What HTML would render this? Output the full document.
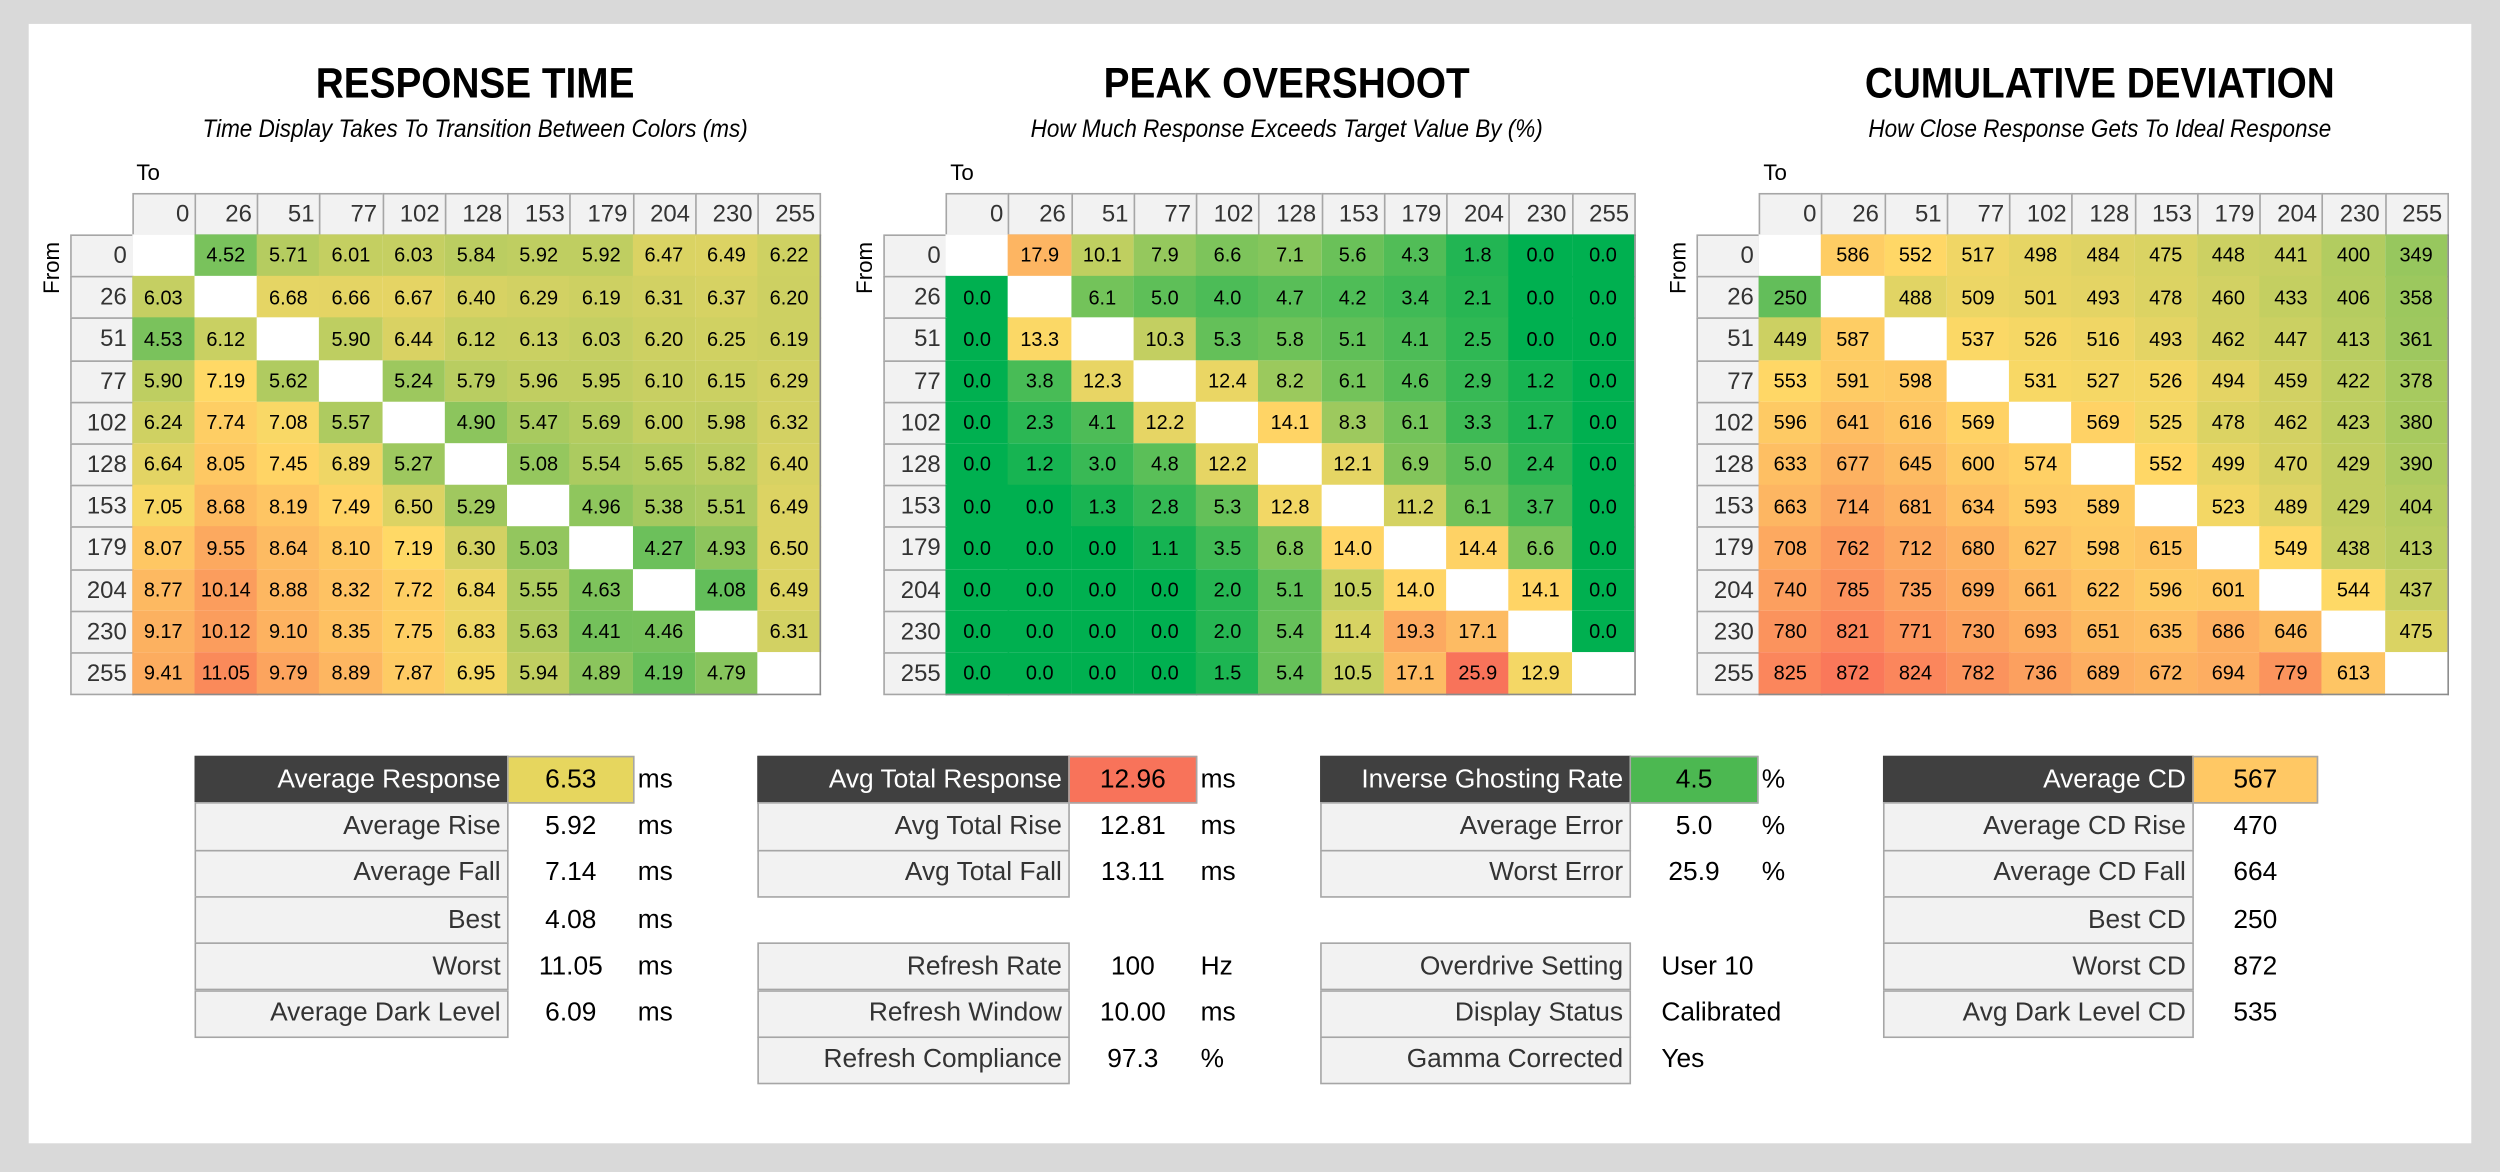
<!DOCTYPE html>
<html><head><meta charset="utf-8">
<style>
html,body{margin:0;padding:0;}
body{width:2500px;height:1172px;background:#d9d9d9;overflow:hidden;position:relative;font-family:"Liberation Sans",sans-serif;}
#stage{position:absolute;left:0;top:0;width:1568px;height:735px;transform:scale(1.59439,1.59456);transform-origin:0 0;}
#panel{position:absolute;left:18px;top:15px;width:1532px;height:702px;background:#fff;}
.abs{position:absolute;box-sizing:border-box;}
.title{position:absolute;width:500px;text-align:center;font-size:27px;font-weight:bold;color:#000;transform:scaleX(0.9);}
.sub{position:absolute;width:500px;text-align:center;font-size:15.5px;font-style:italic;color:#000;transform:scaleX(0.91);}
.hdr{background:#f2f2f2;border:1px solid #a6a6a6;font-size:15px;color:#333;text-align:right;padding-right:3px;display:flex;align-items:center;justify-content:flex-end;}
.cell{font-size:12.5px;color:#000;display:flex;align-items:center;justify-content:center;}
.lab{background:#f2f2f2;border:1px solid #a6a6a6;font-size:16.5px;color:#333;display:flex;align-items:center;justify-content:flex-end;padding-right:4px;}
.lab.dark{background:#404040;color:#fff;border-color:#404040;}
.val{font-size:16.5px;color:#000;display:flex;align-items:center;justify-content:center;}
.val.box{border:1px solid #a6a6a6;}
.val.txt{justify-content:flex-start;padding-left:20px;}
.unit{font-size:16.5px;color:#000;display:flex;align-items:center;}
</style></head>
<body>
<div id="stage">
<div id="panel"></div>
<div class="title" style="left:48px;top:37px">RESPONSE TIME</div>
<div class="sub" style="left:48px;top:73px">Time Display Takes To Transition Between Colors (ms)</div>
<div class="title" style="left:557px;top:37px">PEAK OVERSHOOT</div>
<div class="sub" style="left:557px;top:73px">How Much Response Exceeds Target Value By (%)</div>
<div class="title" style="left:1067px;top:37px">CUMULATIVE DEVIATION</div>
<div class="sub" style="left:1067px;top:73px">How Close Response Gets To Ideal Response</div>
<div id="maps"></div>
<div id="stats"></div>
</div>
<script>
const levels = ["0","26","51","77","102","128","153","179","204","230","255"];
const rtValues = [
[null,4.52,5.71,6.01,6.03,5.84,5.92,5.92,6.47,6.49,6.22],
[6.03,null,6.68,6.66,6.67,6.40,6.29,6.19,6.31,6.37,6.20],
[4.53,6.12,null,5.90,6.44,6.12,6.13,6.03,6.20,6.25,6.19],
[5.90,7.19,5.62,null,5.24,5.79,5.96,5.95,6.10,6.15,6.29],
[6.24,7.74,7.08,5.57,null,4.90,5.47,5.69,6.00,5.98,6.32],
[6.64,8.05,7.45,6.89,5.27,null,5.08,5.54,5.65,5.82,6.40],
[7.05,8.68,8.19,7.49,6.50,5.29,null,4.96,5.38,5.51,6.49],
[8.07,9.55,8.64,8.10,7.19,6.30,5.03,null,4.27,4.93,6.50],
[8.77,10.14,8.88,8.32,7.72,6.84,5.55,4.63,null,4.08,6.49],
[9.17,10.12,9.10,8.35,7.75,6.83,5.63,4.41,4.46,null,6.31],
[9.41,11.05,9.79,8.89,7.87,6.95,5.94,4.89,4.19,4.79,null]];
const osValues = [
[null,17.9,10.1,7.9,6.6,7.1,5.6,4.3,1.8,0.0,0.0],
[0.0,null,6.1,5.0,4.0,4.7,4.2,3.4,2.1,0.0,0.0],
[0.0,13.3,null,10.3,5.3,5.8,5.1,4.1,2.5,0.0,0.0],
[0.0,3.8,12.3,null,12.4,8.2,6.1,4.6,2.9,1.2,0.0],
[0.0,2.3,4.1,12.2,null,14.1,8.3,6.1,3.3,1.7,0.0],
[0.0,1.2,3.0,4.8,12.2,null,12.1,6.9,5.0,2.4,0.0],
[0.0,0.0,1.3,2.8,5.3,12.8,null,11.2,6.1,3.7,0.0],
[0.0,0.0,0.0,1.1,3.5,6.8,14.0,null,14.4,6.6,0.0],
[0.0,0.0,0.0,0.0,2.0,5.1,10.5,14.0,null,14.1,0.0],
[0.0,0.0,0.0,0.0,2.0,5.4,11.4,19.3,17.1,null,0.0],
[0.0,0.0,0.0,0.0,1.5,5.4,10.5,17.1,25.9,12.9,null]];
const cdValues = [
[null,586,552,517,498,484,475,448,441,400,349],
[250,null,488,509,501,493,478,460,433,406,358],
[449,587,null,537,526,516,493,462,447,413,361],
[553,591,598,null,531,527,526,494,459,422,378],
[596,641,616,569,null,569,525,478,462,423,380],
[633,677,645,600,574,null,552,499,470,429,390],
[663,714,681,634,593,589,null,523,489,429,404],
[708,762,712,680,627,598,615,null,549,438,413],
[740,785,735,699,661,622,596,601,null,544,437],
[780,821,771,730,693,651,635,686,646,null,475],
[825,872,824,782,736,689,672,694,779,613,null]];

function lerp(a,b,t){return a.map((v,i)=>Math.round(v+(b[i]-v)*t));}
function colorScale(lo,mid,hi,cLo,cMid,cHi){
  return function(v){
    let c;
    if(v<=mid){c=lerp(cLo,cMid,Math.max(0,(v-lo)/(mid-lo)));}
    else{c=lerp(cMid,cHi,Math.min(1,(v-mid)/(hi-mid)));}
    return 'rgb('+c.join(',')+')';
  };
}
const rtColor = colorScale(4.08,7.2,11.05,[99,190,90],[255,217,102],[250,138,90]);
const osColor = colorScale(0,13.5,25.9,[0,176,80],[255,217,102],[248,115,90]);
const cdColor = colorScale(250,545,872,[99,190,90],[255,217,102],[250,120,90]);

const maps = document.getElementById('maps');
function heatmap(name,left,vals,colorFn,fmt){
  const colW=39.25, labW=39, hdrTop=120.5, hdrH=26.5, rowTop=147, rowH=26.2;
  const gx = left+labW;
  const g = document.createElement('div');
  
  
  maps.appendChild(g);
  const to = document.createElement('div');
  to.className='abs'; to.textContent='To';
  to.style.cssText='left:'+(gx+3)+'px;top:100px;font-size:14px;';
  
  
  g.appendChild(to);
  const fr = document.createElement('div');
  fr.className='abs'; fr.textContent='From';
  fr.style.cssText='left:'+(left-32)+'px;top:160px;font-size:14px;width:40px;text-align:center;transform:rotate(-90deg);';
  
  
  g.appendChild(fr);
  levels.forEach((lv,j)=>{
    const h=document.createElement('div');
    h.className='abs hdr'; h.textContent=lv;
    h.style.cssText='left:'+(gx+j*colW)+'px;top:'+hdrTop+'px;width:'+(colW+1)+'px;height:'+(hdrH+1)+'px;';
    
    
    g.appendChild(h);
  });
  levels.forEach((lv,i)=>{
    const r=document.createElement('div');
    r.className='abs hdr'; r.textContent=lv;
    r.style.cssText='left:'+left+'px;top:'+(rowTop+i*rowH)+'px;width:'+(labW+1)+'px;height:'+(rowH+1)+'px;';
    
    
    g.appendChild(r);
    vals[i].forEach((v,j)=>{
      const c=document.createElement('div');
      c.className='abs cell';
      c.style.cssText='left:'+(gx+j*colW)+'px;top:'+(rowTop+i*rowH)+'px;width:'+(colW+0.5)+'px;height:'+(rowH+0.5)+'px;background:'+(v===null?'#fff':colorFn(v))+';';
      if(v!==null) c.textContent=fmt(v);
      
      
      g.appendChild(c);
    });
  });
  const b=document.createElement('div');
  b.className='abs';
  b.style.cssText='left:'+gx+'px;top:'+rowTop+'px;width:'+(colW*11+1)+'px;height:'+(rowH*11+1)+'px;border:1px solid #8c8c8c;border-left:none;border-top:none;';
  
  
  g.appendChild(b);
}
heatmap('response-time-heatmap',43.5,rtValues,rtColor,v=>v.toFixed(2));
heatmap('peak-overshoot-heatmap',554,osValues,osColor,v=>v.toFixed(1));
heatmap('cumulative-deviation-heatmap',1064,cdValues,cdColor,v=>String(v));

const stats=document.getElementById('stats');
const rowH=29.3, top0=474;
function table(name,left,labW,valW,rows){
  rows.forEach((r,i)=>{
    if(!r) return;
    const y=top0+i*rowH;
    const l=document.createElement('div');
    l.className='abs lab'+(i===0?' dark':'');
    l.textContent=r[0];
    l.style.cssText='left:'+left+'px;top:'+y+'px;width:'+(labW+1)+'px;height:'+(rowH+1)+'px;';
    
    
    stats.appendChild(l);
    const v=document.createElement('div');
    v.className='abs val'+(r[3]?' box':'')+(r[4]?' txt':'');
    v.textContent=r[1];
    v.style.cssText='left:'+(left+labW)+'px;top:'+y+'px;width:'+(valW+1)+'px;height:'+(rowH+1)+'px;'+(r[3]?'background:'+r[3]+';':'');
    
    
    stats.appendChild(v);
    if(r[2]){
      const u=document.createElement('div');
      u.className='abs unit'; u.textContent=r[2];
      u.style.cssText='left:'+(left+labW+valW+3)+'px;top:'+y+'px;height:'+(rowH+1)+'px;';
      
      
      stats.appendChild(u);
    }
  });
}
table('response-stats',122,196,79,[
 ['Average Response','6.53','ms','#e6d65e'],
 ['Average Rise','5.92','ms'],
 ['Average Fall','7.14','ms'],
 ['Best','4.08','ms'],
 ['Worst','11.05','ms'],
 ['Average Dark Level','6.09','ms']]);
table('total-response-stats',475,195,80,[
 ['Avg Total Response','12.96','ms','#f8735a'],
 ['Avg Total Rise','12.81','ms'],
 ['Avg Total Fall','13.11','ms'],
 null,
 ['Refresh Rate','100','Hz'],
 ['Refresh Window','10.00','ms'],
 ['Refresh Compliance','97.3','%']]);
table('overshoot-stats',828,194,80,[
 ['Inverse Ghosting Rate','4.5','%','#4cb851'],
 ['Average Error','5.0','%'],
 ['Worst Error','25.9','%'],
 null,
 ['Overdrive Setting','User 10','',null,true],
 ['Display Status','Calibrated','',null,true],
 ['Gamma Corrected','Yes','',null,true]]);
table('cd-stats',1181,194,78,[
 ['Average CD','567','','#ffc864'],
 ['Average CD Rise','470',''],
 ['Average CD Fall','664',''],
 ['Best CD','250',''],
 ['Worst CD','872',''],
 ['Avg Dark Level CD','535','']]);
</script>
</body></html>
